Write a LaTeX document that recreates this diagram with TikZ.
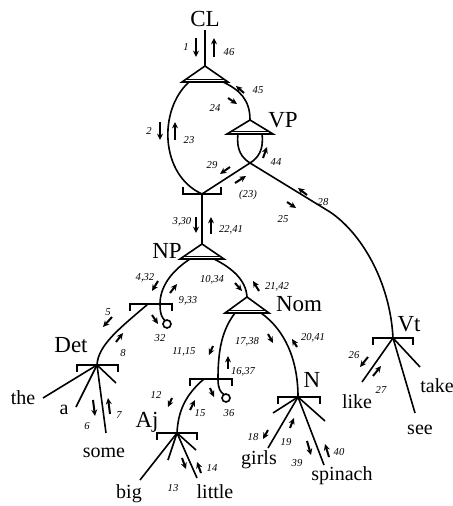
\documentclass[tikz,border=0pt]{standalone}
\usepackage{fontspec}
\setmainfont{Liberation Serif}
\usetikzlibrary{positioning, arrows.meta, calc}

\begin{document}
\begin{tikzpicture}[x=0.5pt, y=-0.5pt, line width=0.8pt,
    cat/.style={font=\fontsize{11.5}{11.5}\selectfont, inner sep=1pt},
    word/.style={font=\fontsize{10}{10}\selectfont, inner sep=1pt},
    num/.style={font=\itshape\fontsize{5.3}{5.3}\selectfont, inner sep=0pt},
    flow/.style={-{Stealth[length=3.2pt,width=3pt]}, line width=1pt}]
  \useasboundingbox (0,0) rectangle (452,506);

  % junctions and triangle tips
  \coordinate (clapex) at (205,66);
  \coordinate (clL) at (189,82);
  \coordinate (clR) at (223,82);
  \coordinate (vpapex) at (250,120);
  \coordinate (vpL) at (238,134);
  \coordinate (vpR) at (262,134);
  \coordinate (cross) at (250,163);
  \coordinate (topj) at (202,194);
  \coordinate (npapex) at (202,244);
  \coordinate (npL) at (190,259);
  \coordinate (npR) at (214,259);
  \coordinate (npj) at (160,304);
  \coordinate (dets) at (148,304);
  \coordinate (npo) at (167,324);
  \coordinate (detj) at (97,365);
  \coordinate (nomapex) at (247,297);
  \coordinate (nomL) at (235,313);
  \coordinate (nomR) at (261,313);
  \coordinate (nomj) at (218,379);
  \coordinate (ajs) at (204,379);
  \coordinate (nomo) at (226,398);
  \coordinate (ajj) at (177,433);
  \coordinate (nj) at (298,397);
  \coordinate (vtbend) at (330,212);
  \coordinate (vtj) at (393,338);

  % line ends
  \coordinate (e-the) at (43,398);
  \coordinate (e-a) at (76,407);
  \coordinate (e-some) at (106,433);
  \coordinate (e-det) at (116,383);
  \coordinate (e-big) at (140,480);
  \coordinate (e-aja) at (168,460);
  \coordinate (e-little) at (197,478);
  \coordinate (e-ajb) at (196,450);
  \coordinate (e-girls) at (268,448);
  \coordinate (e-na) at (273,413);
  \coordinate (e-spinach) at (324,465);
  \coordinate (e-nb) at (325,421);
  \coordinate (e-like) at (362,382);
  \coordinate (e-take) at (420,367);
  \coordinate (e-see) at (415,413);

  \node[cat] (CL) at (205,19) {CL};
  \node[cat] (VP) at (283,120) {VP};
  \node[cat] (NP) at (167,251) {NP};
  \node[cat] (Nom) at (299,304) {Nom};
  \node[cat] (Det) at (71,345) {Det};
  \node[cat] (Aj) at (147,422) {Aj};
  \node[cat] (N) at (312,380) {N};
  \node[cat] (Vt) at (409,324) {Vt};

  \node[word] (the) at (23,398) {the};
  \node[word] (a) at (64,410) {a};
  \node[word] (some) at (104,453) {some};
  \node[word] (big) at (129,494) {big};
  \node[word] (little) at (215,492) {little};
  \node[word] (girls) at (259,460) {girls};
  \node[word] (spinach) at (342,476) {spinach};
  \node[word] (like) at (357,402) {like};
  \node[word] (take) at (437,386) {take};
  \node[word] (see) at (420,430) {see};

  % triangles
  \draw (CL) -- (clapex);
  \draw (clapex) -- ++(-23,16) -- ++(46,0) -- cycle;
  \draw ($(clapex)+(-19,13.5)$) -- ($(clapex)+(19,13.5)$);
  \draw (vpapex) -- ++(-23,14) -- ++(46,0) -- cycle;
  \draw ($(vpapex)+(-19,11.5)$) -- ($(vpapex)+(19,11.5)$);
  \draw (npapex) -- ++(-22,15) -- ++(44,0) -- cycle;
  \draw ($(npapex)+(-18,12.5)$) -- ($(npapex)+(18,12.5)$);
  \draw (nomapex) -- ++(-22,16) -- ++(44,0) -- cycle;
  \draw ($(nomapex)+(-18,13.5)$) -- ($(nomapex)+(18,13.5)$);

  % brackets
  \draw (topj) ++(-19,-7) -- ++(0,7) -- ++(38,0) -- ++(0,-7);
  \draw (npj) ++(-30,7) -- ++(0,-7) -- ++(42,0) -- ++(0,7);
  \draw (detj) ++(-20,7) -- ++(0,-7) -- ++(41,0) -- ++(0,7);
  \draw (nomj) ++(-28,7) -- ++(0,-7) -- ++(42,0) -- ++(0,7);
  \draw (ajj) ++(-20,7) -- ++(0,-7) -- ++(40,0) -- ++(0,7);
  \draw (nj) ++(-20,7) -- ++(0,-7) -- ++(42,0) -- ++(0,7);
  \draw (vtj) ++(-20,7) -- ++(0,-7) -- ++(40,0) -- ++(0,7);

  % connections
  \draw (clL) .. controls (158,110) and (160,175) .. (topj);
  \draw (clR) .. controls (240,90) and (250,100) .. (vpapex);
  \draw (vpL) .. controls (236,150) and (242,158) .. (cross) -- (vtbend)
        .. controls (360,232) and (390,280) .. (vtj);
  \draw (vpR) .. controls (264,150) and (258,158) .. (cross) -- (topj);
  \draw (topj) -- (npapex);
  \draw (npL) .. controls (170,272) and (160,288) .. (npj)
        .. controls (160,314) and (162,318) .. ($(npo)+(-2,-3.5)$);
  \draw (npo) circle[radius=4];
  \draw (dets) .. controls (120,328) and (98,345) .. (detj);
  \draw (npR) .. controls (232,268) and (246,280) .. (nomapex);
  \draw (nomL) .. controls (222,330) and (218,350) .. (nomj)
        .. controls (218,388) and (220,392) .. ($(nomo)+(-2,-3.5)$);
  \draw (nomo) circle[radius=4];
  \draw (ajs) .. controls (185,395) and (178,412) .. (ajj);
  \draw (nomR) .. controls (285,330) and (298,360) .. (nj);

  \draw (detj) -- (e-the);
  \draw (detj) -- (e-a);
  \draw (detj) -- (e-some);
  \draw (detj) -- (e-det);
  \draw (ajj) -- (e-big);
  \draw (ajj) -- (e-aja);
  \draw (ajj) -- (e-little);
  \draw (ajj) -- (e-ajb);
  \draw (nj) -- (e-girls);
  \draw (nj) -- (e-na);
  \draw (nj) -- (e-spinach);
  \draw (nj) -- (e-nb);
  \draw (vtj) -- (e-like);
  \draw (vtj) -- (e-take);
  \draw (vtj) -- (e-see);

  % activation arrows
  \node[num] (l1) at (186,47) {1};
  \draw[flow] (196,38) -- (196,57);
  \node[num] (l46) at (229,52) {46};
  \draw[flow] (214,57) -- (214,38);
  \node[num] (l2) at (149,131) {2};
  \draw[flow] (160,122) -- (160,140);
  \node[num] (l23) at (189,140) {23};
  \draw[flow] (175,140) -- (175,122);
  \node[num] (l24) at (215,108) {24};
  \draw[flow] (228,98) -- (237,104);
  \node[num] (l45) at (258,90) {45};
  \draw[flow] (244,93) -- (236,86);
  \node[num] (l44) at (276,162) {44};
  \draw[flow] (263,158) -- (267,147);
  \node[num] (l29) at (212,165) {29};
  \draw[flow] (230,167) -- (220,174);
  \node[num] (l23b) at (248,195) {(23)};
  \draw[flow] (235,183) -- (246,176);
  \node[num] (l28) at (323,202) {28};
  \draw[flow] (307,195) -- (298,188);
  \node[num] (l25) at (283,219) {25};
  \draw[flow] (287,202) -- (296,208);
  \node[num] (l330) at (182,222) {3,30};
  \draw[flow] (196,217) -- (196,233);
  \node[num] (l2241) at (231,230) {22,41};
  \draw[flow] (211,234) -- (211,217);
  \node[num] (l432) at (145,278) {4,32};
  \draw[flow] (158,281) -- (152,291);
  \node[num] (l933) at (188,301) {9,33};
  \draw[flow] (170,293) -- (177,284);
  \node[num] (l32) at (160,338) {32};
  \draw[flow] (152,315) -- (158,324);
  \node[num] (l5) at (108,312) {5};
  \draw[flow] (112,317) -- (103,327);
  \node[num] (l8) at (123,353) {8};
  \draw[flow] (116,342) -- (123,333);
  \node[num] (l6) at (87,426) {6};
  \draw[flow] (93,400) -- (95,416);
  \node[num] (l7) at (119,415) {7};
  \draw[flow] (110,414) -- (108,398);
  \node[num] (l1034) at (212,280) {10,34};
  \draw[flow] (235,283) -- (242,291);
  \node[num] (l2142) at (277,287) {21,42};
  \draw[flow] (259,291) -- (253,281);
  \node[num] (l1115) at (184,352) {11,15};
  \draw[flow] (213,346) -- (209,355);
  \node[num] (l1637) at (243,372) {16,37};
  \draw[flow] (228,369) -- (228,356);
  \node[num] (l36) at (229,413) {36};
  \draw[flow] (210,388) -- (214,397);
  \node[num] (l12) at (156,395) {12};
  \draw[flow] (172,398) -- (168,407);
  \node[num] (l15) at (200,413) {15};
  \draw[flow] (190,410) -- (195,400);
  \node[num] (l13) at (173,488) {13};
  \draw[flow] (182,458) -- (186,469);
  \node[num] (l14) at (212,468) {14};
  \draw[flow] (201,473) -- (197,462);
  \node[num] (l1738) at (247,342) {17,38};
  \draw[flow] (268,334) -- (273,343);
  \node[num] (l2041) at (313,338) {20,41};
  \draw[flow] (297,347) -- (292,339);
  \node[num] (l18) at (253,437) {18};
  \draw[flow] (268,430) -- (263,439);
  \node[num] (l19) at (286,442) {19};
  \draw[flow] (290,428) -- (294,418);
  \node[num] (l39) at (297,463) {39};
  \draw[flow] (307,441) -- (311,455);
  \node[num] (l40) at (339,452) {40};
  \draw[flow] (329,457) -- (325,444);
  \node[num] (l26) at (354,355) {26};
  \draw[flow] (368,357) -- (360,367);
  \node[num] (l27) at (381,390) {27};
  \draw[flow] (373,376) -- (381,366);
\end{tikzpicture}
\end{document}
